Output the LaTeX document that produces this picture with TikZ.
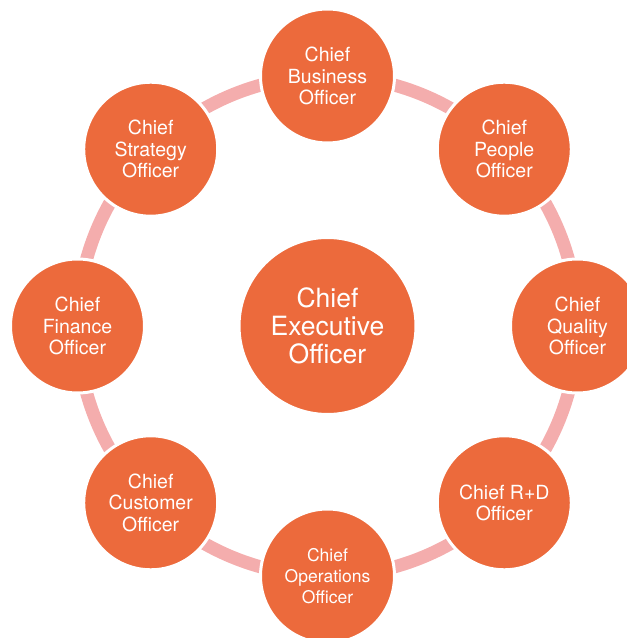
\documentclass[tikz,border=0pt]{standalone}
\usepackage{fontspec}
\setmainfont{TeX Gyre Heros}
\usetikzlibrary{positioning,backgrounds}
\definecolor{officeorange}{HTML}{EC6A3C}
\definecolor{ringpink}{HTML}{F4ADAD}
\tikzset{
  officer/.style={circle, fill=officeorange, draw=white, line width=3pt,
    minimum size=134pt, inner sep=0pt, text=white, align=center,
    font=\fontsize{19.5}{21.5}\selectfont},
  chief/.style={officer, minimum size=177pt, font=\fontsize{26.5}{28}\selectfont},
  ring/.style={ringpink, line width=13pt},
}

\begin{document}
\begin{tikzpicture}[x=1pt,y=1pt]
 \clip (0,0) rectangle (627,638);
 \coordinate (hub) at (327.5,312);

    % centre
    \node[chief] (ceo) at (hub) {Chief\\Executive\\Officer};

    % officers round the ring
    \path (hub) ++(90:250)   node[officer] (business)   {Chief\\Business\\Officer};
    \path (hub) ++(45:250)   node[officer] (people)     {Chief\\People\\Officer};
    \path (hub) ++(0:250)    node[officer] (quality)    {Chief\\Quality\\Officer};
    \path (hub) ++(-45:250)  node[officer] (rd)         {Chief R+D\\Officer};
    \path (hub) ++(-90:250)  node[officer, font=\fontsize{17.5}{21}\selectfont] (operations) {Chief\\Operations\\Officer};
    \path (hub) ++(-135:250) node[officer] (customer)   {Chief\\Customer\\Officer};
    \path (hub) ++(180:250)  node[officer] (finance)    {Chief\\Finance\\Officer};
    \path (hub) ++(135:250)  node[officer] (strategy)   {Chief\\Strategy\\Officer};

    % draw ring segments
    \begin{scope}[on background layer]
      \foreach \from/\a in {business/90,people/45,quality/0,rd/-45,operations/-90,customer/-135,finance/-180,strategy/135}
        \draw[ring] (\from.center) arc (\a:\a-45:250);
    \end{scope}
\end{tikzpicture}
\end{document}
